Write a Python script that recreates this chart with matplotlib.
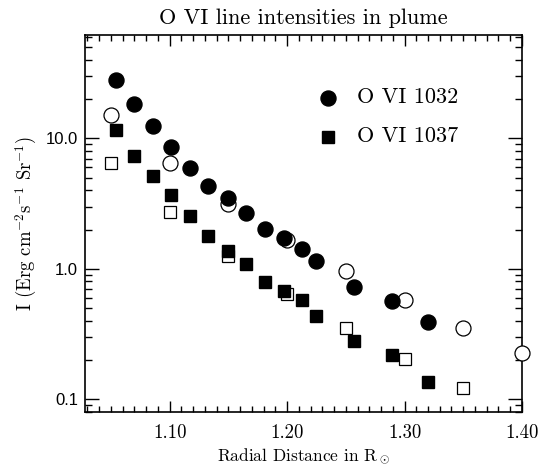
import numpy as np
import matplotlib.pyplot as plt
from matplotlib.ticker import MultipleLocator, LogLocator, NullFormatter

plt.rcParams['mathtext.fontset'] = 'cm'
plt.rcParams['axes.formatter.use_mathtext'] = True

# O VI 1032 / 1037 intensities (filled = one data set, open = another)
r_fill = [1.054, 1.070, 1.086, 1.101, 1.117, 1.133, 1.150, 1.165, 1.181,
          1.197, 1.213, 1.225, 1.257, 1.289, 1.320]
i1032_fill = [28.2, 18.2, 12.4, 8.6, 5.9, 4.3, 3.46, 2.68, 2.03,
              1.72, 1.42, 1.14, 0.73, 0.57, 0.39]
i1037_fill = [11.6, 7.3, 5.1, 3.67, 2.52, 1.77, 1.38, 1.09, 0.79,
              0.675, 0.573, 0.432, 0.279, 0.218, 0.136]

r_open = [1.05, 1.10, 1.15, 1.20, 1.25, 1.30, 1.35, 1.40]
i1032_open = [15.1, 6.5, 3.13, 1.66, 0.954, 0.573, 0.355, 0.228]
r_open2 = [1.05, 1.10, 1.15, 1.20, 1.25, 1.30, 1.35]
i1037_open = [6.44, 2.74, 1.26, 0.644, 0.352, 0.202, 0.121]

fig = plt.figure(figsize=(5.42, 4.66), dpi=100)
ax = fig.add_axes([0.157, 0.116, 0.806, 0.809])

ax.plot(r_open, i1032_open, 'o', ms=10.8, mfc='white', mec='black', mew=0.9, clip_on=False, zorder=3)
ax.plot(r_open2, i1037_open, 's', ms=8.8, mfc='white', mec='black', mew=0.9, zorder=3)
ax.plot(r_fill, i1032_fill, 'o', ms=10.8, color='black', zorder=4)
ax.plot(r_fill, i1037_fill, 's', ms=8.6, color='black', zorder=4)

ax.set_yscale('log')
ax.set_xlim(1.028, 1.40)

ax.xaxis.set_minor_locator(MultipleLocator(0.01))
ax.set_xticks([1.1, 1.2, 1.3, 1.4])
ax.set_xticklabels(['1.10', '1.20', '1.30', '1.40'], fontfamily='cmr10', fontsize=13.5)

ax.yaxis.set_minor_locator(LogLocator(base=10, subs=np.arange(2, 10)))
ax.yaxis.set_minor_formatter(NullFormatter())
ax.set_yticks([0.1, 1.0, 10.0])
ax.set_yticklabels(['0.1', '1.0', '10.0'], fontfamily='Liberation Sans', fontsize=12)
ax.set_ylim(0.08, 62)

ax.tick_params(which='both', direction='in', top=True, right=True, width=1.0, color='black')
ax.tick_params(which='major', axis='x', length=8, pad=9)
ax.tick_params(which='minor', axis='x', length=4)
ax.tick_params(which='major', axis='y', length=10, pad=5)
ax.tick_params(which='minor', axis='y', length=5)
for s in ax.spines.values():
    s.set_linewidth(1.2)

ax.set_title('O VI line intensities in plume', fontfamily='cmr10', fontsize=16, pad=8)
ax.set_xlabel(r'Radial Distance in R$_\odot$', fontfamily='cmr10', fontsize=12.5, labelpad=3)
ax.set_ylabel(r'I (Erg cm$^{-2}$s$^{-1}$ Sr$^{-1}$)', fontfamily='cmr10', fontsize=13.5, labelpad=5)

# legend drawn by hand like the IDL original
ax.plot([0.555], [0.834], 'o', ms=10.8, color='black', transform=ax.transAxes)
ax.plot([0.555], [0.730], 's', ms=8.6, color='black', transform=ax.transAxes)
ax.text(0.622, 0.834, 'O VI 1032', transform=ax.transAxes, fontfamily='cmr10', fontsize=16, va='center')
ax.text(0.622, 0.730, 'O VI 1037', transform=ax.transAxes, fontfamily='cmr10', fontsize=16, va='center')

fig.savefig('out.png', dpi=100)
